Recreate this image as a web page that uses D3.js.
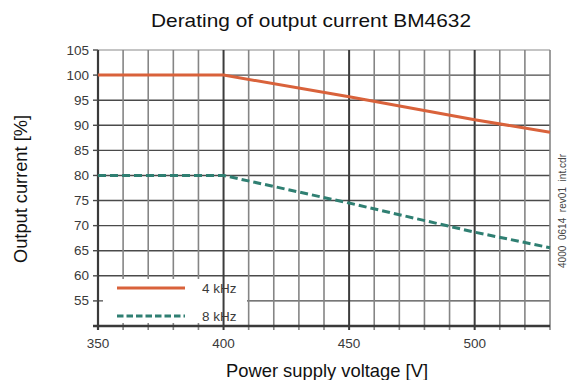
<!DOCTYPE html>
<html><head><meta charset="utf-8">
<script src="https://cdn.jsdelivr.net/npm/d3@7"></script>
<style>
body{margin:0;background:#fff;}
svg{display:block;font-family:"Liberation Sans",Arial,sans-serif;}
</style></head>
<body>
<svg id="chart" width="569" height="380"></svg>
<script>
const voltage = [350, 400, 450, 500, 530];
const current4k = [100, 100, 95.7, 91.1, 88.6];
const current8k = [80, 80, 74.5, 68.7, 65.6];
const seriesNames = ["4 kHz", "8 kHz"];
const xTicks = [350, 400, 450, 500];
const xGrid = d3.range(350, 531, 10);
const yTicks = [55, 60, 65, 70, 75, 80, 85, 90, 95, 100, 105];
const title = "Derating of output current BM4632";
const xLabel = "Power supply voltage [V]";
const yLabel = "Output current [%]";
const sideNote = "4000  0614  rev01  int.cdr";

const svg = d3.select("#chart");
const x = d3.scaleLinear().domain([350, 530]).range([98, 550]);
const y = d3.scaleLinear().domain([50, 105]).range([326, 50]);

const g = svg.append("g");

// horizontal grid
g.selectAll(".hg").data(yTicks).enter().append("line")
  .attr("x1", x(350)).attr("x2", x(530))
  .attr("y1", d => y(d)).attr("y2", d => y(d))
  .attr("stroke", d => d === 105 ? "#b0b0b0" : "#4a4a4a")
  .attr("stroke-width", d => d === 105 ? 1.5 : 1.4);

// minor vertical grid
g.selectAll(".vg").data(xGrid.filter(v => v % 50 !== 0)).enter().append("line")
  .attr("x1", d => x(d)).attr("x2", d => x(d))
  .attr("y1", y(105)).attr("y2", y(50) + 4)
  .attr("stroke", "#858585").attr("stroke-width", 1.6);

// legend box background
g.append("rect").attr("x", 103).attr("y", 279).attr("width", 144).attr("height", 44).attr("fill", "#fff");

// major vertical grid
g.selectAll(".vm").data([400, 450, 500]).enter().append("line")
  .attr("x1", d => x(d)).attr("x2", d => x(d))
  .attr("y1", y(105)).attr("y2", y(50) + 4)
  .attr("stroke", "#3c3c3c").attr("stroke-width", 2);

// axes
g.append("line").attr("x1", x(350)).attr("x2", x(350)).attr("y1", y(105)).attr("y2", y(50) + 4)
  .attr("stroke", "#3a3a3a").attr("stroke-width", 2.2);
g.append("line").attr("x1", x(350) - 5).attr("x2", x(530)).attr("y1", y(50)).attr("y2", y(50))
  .attr("stroke", "#3a3a3a").attr("stroke-width", 2.4);
// y ticks
g.selectAll(".yt").data(yTicks).enter().append("line")
  .attr("x1", x(350) - 5).attr("x2", x(350)).attr("y1", d => y(d)).attr("y2", d => y(d))
  .attr("stroke", "#4a4a4a").attr("stroke-width", 1.4);

// tick labels
g.selectAll(".yl").data(yTicks).enter().append("text")
  .attr("x", 89).attr("y", d => y(d) + 4.5).attr("text-anchor", "end")
  .attr("font-size", 13.5).attr("fill", "#3a3a3a").text(d => d);
g.selectAll(".xl").data(xTicks).enter().append("text")
  .attr("x", d => x(d)).attr("y", 348).attr("text-anchor", "middle")
  .attr("font-size", 13.5).attr("fill", "#3a3a3a").text(d => d);

// lines
const line = d3.line().x((d, i) => x(voltage[i])).y(d => y(d));
g.append("path").datum(current4k).attr("d", line).attr("fill", "none")
  .attr("stroke", "#d9623b").attr("stroke-width", 3);
g.append("path").datum(current8k).attr("d", line).attr("fill", "none")
  .attr("stroke", "#2f7f72").attr("stroke-width", 3).attr("stroke-dasharray", "8,4");

// legend
const legY = [288, 316];
g.append("line").attr("x1", 117).attr("x2", 185).attr("y1", legY[0]).attr("y2", legY[0])
  .attr("stroke", "#d9623b").attr("stroke-width", 3);
g.append("line").attr("x1", 117).attr("x2", 185).attr("y1", legY[1]).attr("y2", legY[1])
  .attr("stroke", "#2f7f72").attr("stroke-width", 3).attr("stroke-dasharray", "6.5,3");
seriesNames.forEach((n, i) => {
  g.append("text").attr("x", 202).attr("y", legY[i] + 5).attr("font-size", 13.5)
    .attr("fill", "#3a3a3a").text(n);
});

// titles
svg.append("text").attr("x", 151).attr("y", 27)
  .attr("textLength", 320).attr("lengthAdjust", "spacingAndGlyphs")
  .attr("font-size", 18.5).attr("fill", "#111").text(title);
svg.append("text").attr("x", 226).attr("y", 377)
  .attr("textLength", 202).attr("lengthAdjust", "spacingAndGlyphs")
  .attr("font-size", 18.5).attr("fill", "#111").text(xLabel);
svg.append("text").attr("transform", "translate(27,263) rotate(-90)")
  .attr("textLength", 148).attr("lengthAdjust", "spacingAndGlyphs")
  .attr("font-size", 18.5).attr("fill", "#111").text(yLabel);
svg.append("text").attr("transform", "translate(566,268) rotate(-90)")
  .attr("textLength", 114).attr("lengthAdjust", "spacing")
  .attr("font-size", 10).attr("fill", "#444").style("white-space", "pre").text(sideNote);
</script>
</body></html>
